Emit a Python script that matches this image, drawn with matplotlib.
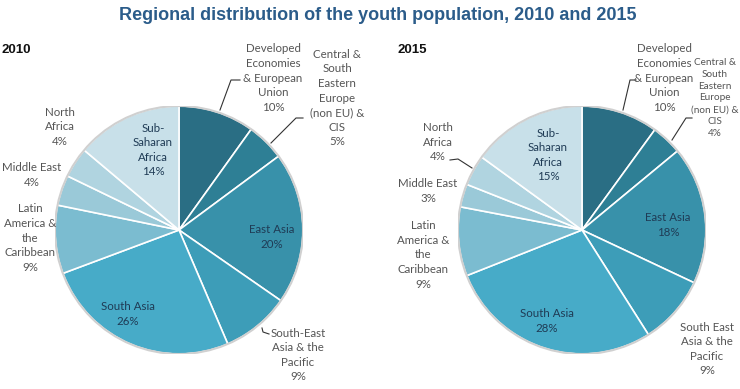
import matplotlib.pyplot as plt

W, H = 740, 389

regions = ['Developed Economies & European Union',
           'Central & South Eastern Europe (non EU) & CIS',
           'East Asia', 'South-East Asia & the Pacific', 'South Asia',
           'Latin America & the Caribbean', 'Middle East', 'North Africa',
           'Sub-Saharan Africa']
share_2010 = [10, 5, 20, 9, 26, 9, 4, 4, 14]
share_2015 = [10, 4, 18, 9, 28, 9, 3, 4, 15]

labels_2010 = ['Developed\nEconomies\n& European\nUnion\n10%',
               'Central &\nSouth\nEastern\nEurope\n(non EU) &\nCIS\n5%',
               'East Asia\n20%', 'South-East\nAsia & the\nPacific\n9%',
               'South Asia\n26%', 'Latin\nAmerica &\nthe\nCaribbean\n9%',
               'Middle East\n4%', 'North\nAfrica\n4%', 'Sub-\nSaharan\nAfrica\n14%']
labels_2015 = ['Developed\nEconomies\n& European\nUnion\n10%',
               'Central &\nSouth\nEastern\nEurope\n(non EU) &\nCIS\n4%',
               'East Asia\n18%', 'South East\nAsia & the\nPacific\n9%',
               'South Asia\n28%', 'Latin\nAmerica &\nthe\nCaribbean\n9%',
               'Middle East\n3%', 'North\nAfrica\n4%', 'Sub-\nSaharan\nAfrica\n15%']

colors = ['#2a6e84', '#2e7f95', '#3891aa', '#3d9db8', '#47abc8',
          '#7bbcd0', '#9ac9d8', '#b0d4e0', '#c8e0e9']

plt.rcParams['font.family'] = ['Lato', 'DejaVu Sans']

fig = plt.figure(figsize=(W / 100, H / 100), dpi=100)

R = 124  # pie radius in pixels


def pie_axes(cx, cy):
    return fig.add_axes([(cx - R) / W, (H - cy - R) / H, 2 * R / W, 2 * R / H])


def px(cx, cy, x, y):
    # pixel position -> pie data coords (radius 1)
    return (x - cx) / R, (cy - y) / R


def draw(cx, cy, values, labels, label_pos, leaders, small=()):
    ax = pie_axes(cx, cy)
    ax.pie(values, colors=colors, startangle=90, counterclock=False,
           wedgeprops=dict(edgecolor='white', linewidth=1.2))
    ax.add_patch(plt.Circle((0, 0), 1.0, fill=False, ec='#d0d0d0', lw=1.5))
    ax.set_xlim(-1, 1)
    ax.set_ylim(-1, 1)
    ax.set_aspect('auto')
    ax.axis('off')
    inside = {2, 4, 8}
    for i, (lx, ly) in enumerate(label_pos):
        x, y = px(cx, cy, lx, ly)
        ax.text(x, y, labels[i], ha='center', va='center',
                fontsize=7.2 if i in small else 8.3, linespacing=1.4,
                color='#1f3b55' if i in inside else '#555555', clip_on=False)
    for pts in leaders:
        xs, ys = zip(*[px(cx, cy, a, b) for a, b in pts])
        ax.plot(xs, ys, color='#333333', lw=0.8, clip_on=False)


pos_2010 = [(273, 78), (337, 98), (272, 237), (298, 355), (128, 314),
            (30, 238), (32, 175), (60, 127), (153, 150)]
lead_2010 = [[(240, 80), (231, 80), (220, 110)],
             [(303, 118), (296, 118), (271, 143)],
             [(269, 334), (263, 332), (262, 328)]]
draw(179, 230, share_2010, labels_2010, pos_2010, lead_2010)

pos_2015 = [(664, 78), (715, 98), (668, 225), (707, 349), (547, 321),
            (423, 255), (428, 191), (438, 142), (548, 155)]
lead_2015 = [[(636, 80), (630, 80), (623, 110)],
             [(692, 118), (686, 118), (672, 140)],
             [(450, 160), (458, 159), (472, 168)]]
draw(582, 230, share_2015, labels_2015, pos_2015, lead_2015, small={1})

fig.text(378 / W, 1 - 16 / H,
         'Regional distribution of the youth population, 2010 and 2015',
         ha='center', va='center', fontsize=13, fontweight='bold',
         color='#2b5c8a', family='Liberation Sans')
fig.text(1 / W, 1 - 50 / H, '2010', ha='left', va='center', fontsize=9.5,
         fontweight='bold', color='#111111', family='Liberation Sans')
fig.text(398 / W, 1 - 50 / H, '2015', ha='left', va='center', fontsize=9.5,
         fontweight='bold', color='#111111', family='Liberation Sans')

plt.savefig('out.png', dpi=100)
